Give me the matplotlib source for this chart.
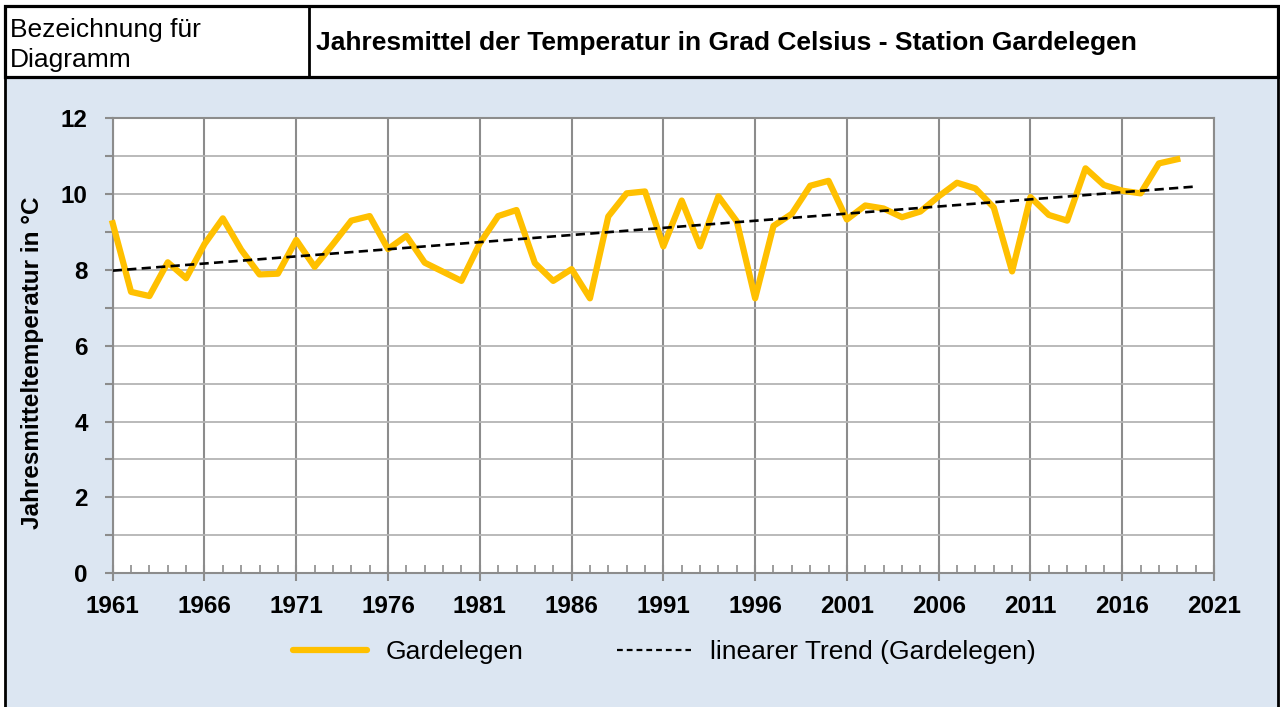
import matplotlib.pyplot as plt
from matplotlib.patches import Rectangle
from matplotlib.lines import Line2D

plt.rcParams['font.family'] = ['Liberation Sans', 'DejaVu Sans']

# Jahresmittel der Temperatur, Station Gardelegen
jahre = list(range(1961, 2020))
temperatur = [9.23, 7.42, 7.31, 8.20, 7.78, 8.68, 9.36, 8.53, 7.88, 7.90,
              8.79, 8.08, 8.68, 9.30, 9.42, 8.55, 8.90, 8.19, 7.95, 7.71,
              8.70, 9.42, 9.58, 8.18, 7.71, 8.02, 7.25, 9.41, 10.02, 10.07,
              8.62, 9.83, 8.62, 9.94, 9.28, 7.25, 9.16, 9.48, 10.22, 10.35,
              9.33, 9.70, 9.62, 9.39, 9.54, 9.94, 10.30, 10.15, 9.65, 7.96,
              9.92, 9.45, 9.30, 10.68, 10.24, 10.09, 10.02, 10.81, 10.92]
trend_jahre = [1961, 2020]
trend_werte = [7.98, 10.20]
xticks = list(range(1961, 2022, 5))
yticks = list(range(0, 13, 2))

W, H = 1280, 707
fig = plt.figure(figsize=(12.8, 7.07), dpi=100)
fig.patch.set_facecolor('white')


def fx(px):
    return px / W


def fy(py):
    return 1 - py / H


# hellblaues Diagrammfeld
fig.add_artist(Rectangle((fx(4.7), -0.02), fx(1277.5) - fx(4.7), fy(77) + 0.02,
                         transform=fig.transFigure, facecolor='#DCE6F2',
                         edgecolor='black', lw=2.0, zorder=0))
# Kopfzeile
fig.add_artist(Rectangle((fx(5), fy(77)), fx(1278) - fx(5), fy(5.5) - fy(77),
                         transform=fig.transFigure, facecolor='white',
                         edgecolor='black', lw=2.3, zorder=1))
fig.add_artist(Line2D([fx(309), fx(309)], [fy(77), fy(5.5)], transform=fig.transFigure,
                      color='black', lw=2.0, zorder=2))
fig.text(fx(10), fy(37), 'Bezeichnung für', fontsize=19, va='baseline', ha='left')
fig.text(fx(10), fy(67), 'Diagramm', fontsize=19, va='baseline', ha='left')
fig.text(fx(316), fy(50), 'Jahresmittel der Temperatur in Grad Celsius - Station Gardelegen',
         fontsize=19, fontweight='bold', va='baseline', ha='left')

ax = fig.add_axes([fx(112.7), fy(573.1), fx(1214) - fx(112.7), fy(118.3) - fy(573.1)])
ax.set_facecolor('white')
ax.set_xlim(1961, 2021)
ax.set_ylim(0, 12)
ax.set_xticks(xticks)
ax.set_xticks(range(1961, 2022), minor=True)
ax.set_yticks(yticks)
ax.set_yticks(range(0, 13), minor=True)
ax.set_axisbelow(True)
ax.grid(axis='y', which='both', color='#B4B4B4', lw=1.3)
ax.grid(axis='x', which='major', color='#8C8C8C', lw=1.5)
for s in ax.spines.values():
    s.set_color('#8C8C8C')
    s.set_linewidth(1.5)

ax.tick_params(axis='x', which='major', direction='inout', length=12, width=1.5,
               color='#8C8C8C', labelsize=17.5, pad=9.5)
ax.tick_params(axis='x', which='minor', direction='in', length=6, width=1.2, color='#8C8C8C')
ax.tick_params(axis='y', which='both', direction='out', length=6, width=1.5,
               color='#8C8C8C', labelsize=17.5, pad=12)
for lab in ax.get_xticklabels() + ax.get_yticklabels():
    lab.set_fontweight('bold')

ax.plot(jahre, temperatur, color='#FFC000', lw=4.5, clip_on=False, zorder=3)
ax.plot(trend_jahre, trend_werte, color='black', lw=1.9, dashes=(3.5, 2.0), zorder=4)

fig.text(fx(33), fy(363), 'Jahresmitteltemperatur in °C', rotation=90, fontsize=17.5,
         fontweight='bold', ha='center', va='center')

handles = [Line2D([], [], color='#FFC000', lw=4.5, solid_capstyle='round'),
           Line2D([], [], color='black', lw=1.6, dashes=(2.6, 1.8))]
fig.legend(handles, ['Gardelegen', 'linearer Trend (Gardelegen)'], ncol=2,
           loc='center left', bbox_to_anchor=(fx(293), fy(652)), frameon=False,
           fontsize=19, handlelength=2.8, handletextpad=0.72, columnspacing=3.55,
           borderpad=0, borderaxespad=0)

fig.savefig('out.png', dpi=100)
